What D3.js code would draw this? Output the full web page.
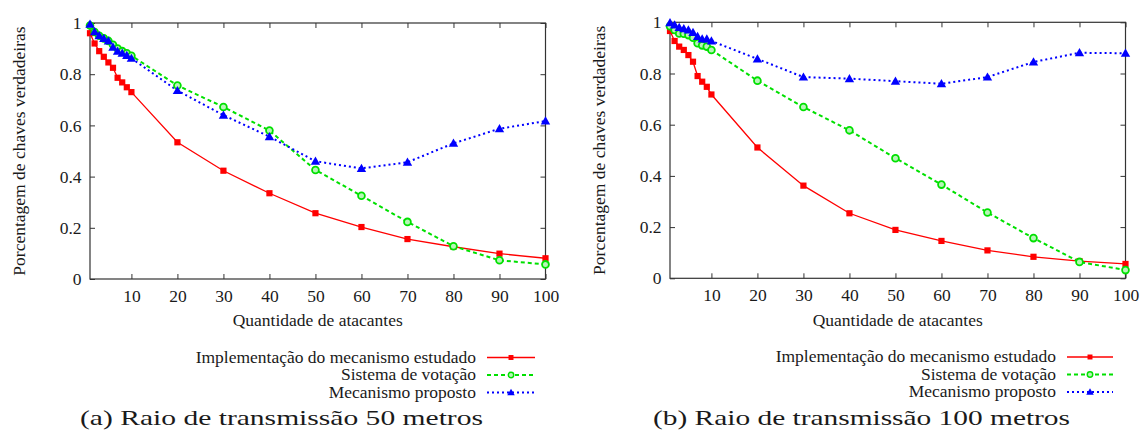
<!DOCTYPE html>
<html>
<head>
<meta charset="utf-8">
<script src="https://cdn.jsdelivr.net/npm/d3@7"></script>
<style>
  html, body { margin: 0; padding: 0; background: #fff; }
  svg { display: block; }
  text { font-family: "Liberation Serif", "Times New Roman", serif; fill: #1a1a1a; }
</style>
</head>
<body>
<svg id="chart" width="1141" height="436"></svg>
<script>
// Number of attackers on the x axis
const attackers = [1, 2, 3, 4, 5, 6, 7, 8, 9, 10, 20, 30, 40, 50, 60, 70, 80, 90, 100];
const xTickValues = [10, 20, 30, 40, 50, 60, 70, 80, 90, 100];
const yTickValues = [0, 0.2, 0.4, 0.6, 0.8, 1];

const seriesNames = [
  "Implementação do mecanismo estudado",
  "Sistema de votação",
  "Mecanismo proposto"
];

// (a) transmission radius 50 m
const studiedA  = [0.96, 0.92, 0.89, 0.868, 0.846, 0.825, 0.786, 0.768, 0.749, 0.73,
                   0.534, 0.423, 0.335, 0.257, 0.203, 0.156, 0.126, 0.099, 0.081];
const votingA   = [0.99, 0.965, 0.95, 0.94, 0.93, 0.915, 0.9, 0.89, 0.882, 0.872,
                   0.756, 0.672, 0.58, 0.426, 0.325, 0.223, 0.128, 0.073, 0.057];
const proposedA = [0.995, 0.966, 0.95, 0.94, 0.93, 0.905, 0.89, 0.882, 0.873, 0.862,
                   0.736, 0.64, 0.556, 0.46, 0.432, 0.456, 0.53, 0.587, 0.617];

// (b) transmission radius 100 m
const studiedB  = [0.966, 0.927, 0.905, 0.892, 0.872, 0.846, 0.79, 0.768, 0.748, 0.718,
                   0.511, 0.362, 0.254, 0.189, 0.146, 0.109, 0.084, 0.067, 0.056];
const votingB   = [0.985, 0.97, 0.956, 0.955, 0.95, 0.94, 0.918, 0.91, 0.905, 0.892,
                   0.772, 0.669, 0.578, 0.469, 0.366, 0.257, 0.157, 0.064, 0.032];
const proposedB = [0.998, 0.99, 0.98, 0.975, 0.97, 0.96, 0.945, 0.935, 0.935, 0.927,
                   0.857, 0.786, 0.78, 0.77, 0.76, 0.786, 0.845, 0.881, 0.879];

const captions = ["(a) Raio de transmissão 50 metros", "(b) Raio de transmissão 100 metros"];
const xTitle = "Quantidade de atacantes";
const yTitle = "Porcentagem de chaves verdadeiras";

const styles = [
  { color: "#ff0000", dash: null,  marker: "square" },
  { color: "#00e000", dash: "4,3", marker: "circle" },
  { color: "#0000ff", dash: "2,3", marker: "triangle" }
];

const FONT = 17.5;
const LEGEND_FONT = 15.8;

const svg = d3.select("#chart");
svg.append("rect").attr("width", 1141).attr("height", 436).attr("fill", "#fff");

const panels = [
  { left: 90,  right: 545.5,  top: 23,   bottom: 279,   titleX: 19,
    legendTextX: 476, legendLineX0: 487, legendLineX1: 535, legendY: [357.5, 375, 392.5],
    captionX: 80, captionW: 403, captionY: 425,
    data: [studiedA, votingA, proposedA], caption: captions[0] },
  { left: 670, right: 1125.5, top: 22.3, bottom: 278.3, titleX: 599,
    legendTextX: 1056, legendLineX0: 1067, legendLineX1: 1113, legendY: [357, 374.5, 392],
    captionX: 653, captionW: 417, captionY: 425,
    data: [studiedB, votingB, proposedB], caption: captions[1] }
];

function drawMarker(g, type, x, y, color) {
  if (type === "square") {
    g.append("rect").attr("x", x - 3.1).attr("y", y - 3.1).attr("width", 6.2).attr("height", 6.2)
      .attr("fill", color);
  } else if (type === "circle") {
    g.append("circle").attr("cx", x).attr("cy", y).attr("r", 3.4)
      .attr("fill", "#b8f5b8").attr("stroke", color).attr("stroke-width", 1.8);
  } else {
    const s = 4.7;
    g.append("path")
      .attr("d", `M${x},${y - s}L${x + s},${y + s * 0.75}L${x - s},${y + s * 0.75}Z`)
      .attr("fill", color);
  }
}

panels.forEach(p => {
  const x = d3.scaleLinear().domain([1, 100]).range([p.left, p.right]);
  const y = d3.scaleLinear().domain([0, 1]).range([p.bottom, p.top]);
  const g = svg.append("g");

  // Axes with inward ticks on all four sides
  g.append("g").attr("transform", `translate(0,${p.bottom})`)
    .call(d3.axisBottom(x).tickValues(xTickValues).tickSizeInner(-5).tickSizeOuter(0).tickPadding(10.5));
  g.append("g").attr("transform", `translate(${p.left},0)`)
    .call(d3.axisLeft(y).tickValues(yTickValues).tickFormat(d3.format("~g"))
      .tickSizeInner(-5).tickSizeOuter(0).tickPadding(8.5));
  g.append("g").attr("transform", `translate(0,${p.top})`)
    .call(d3.axisTop(x).tickValues(xTickValues).tickSizeInner(-5).tickSizeOuter(0).tickFormat(""));
  g.append("g").attr("transform", `translate(${p.right},0)`)
    .call(d3.axisRight(y).tickValues(yTickValues).tickSizeInner(-5).tickSizeOuter(0).tickFormat(""));

  g.selectAll(".domain").remove();
  g.selectAll(".tick line").attr("stroke", "#333").attr("stroke-width", 1);
  g.selectAll(".tick text").attr("font-family", "Liberation Serif, serif")
    .attr("font-size", FONT).attr("fill", "#1a1a1a");

  // Frame
  g.append("rect")
    .attr("x", p.left).attr("y", p.top)
    .attr("width", p.right - p.left).attr("height", p.bottom - p.top)
    .attr("fill", "none").attr("stroke", "#333").attr("stroke-width", 1.2);

  // Series
  const line = d3.line().x((d, i) => x(attackers[i])).y(d => y(d));
  p.data.forEach((vals, si) => {
    const st = styles[si];
    g.append("path").datum(vals)
      .attr("d", line)
      .attr("fill", "none")
      .attr("stroke", st.color)
      .attr("stroke-width", si === 0 ? 1.3 : 2)
      .attr("stroke-dasharray", st.dash);
  });
  p.data.forEach((vals, si) => {
    const st = styles[si];
    const mg = g.append("g");
    vals.forEach((v, i) => drawMarker(mg, st.marker, x(attackers[i]), y(v), st.color));
  });

  // Axis titles
  g.append("text")
    .attr("x", (p.left + p.right) / 2).attr("y", 326)
    .attr("text-anchor", "middle").attr("font-size", FONT)
    .text(xTitle);
  g.append("text")
    .attr("transform", `translate(${p.titleX},${(p.top + p.bottom) / 2}) rotate(-90)`)
    .attr("text-anchor", "middle").attr("dy", "0.35em").attr("font-size", FONT)
    .text(yTitle);

  // Legend: compact font, widened horizontally to the full entry width
  seriesNames.forEach((name, si) => {
    const st = styles[si];
    const ly = p.legendY[si];
    const t = g.append("text").attr("x", p.legendTextX).attr("y", ly).attr("dy", "0.33em")
      .attr("text-anchor", "end").attr("font-size", LEGEND_FONT).text(name);
    const w = t.node().getComputedTextLength();
    t.attr("textLength", w * FONT / LEGEND_FONT).attr("lengthAdjust", "spacingAndGlyphs");
    g.append("line")
      .attr("x1", p.legendLineX0).attr("x2", p.legendLineX1)
      .attr("y1", ly).attr("y2", ly)
      .attr("stroke", st.color).attr("stroke-width", si === 0 ? 1.3 : 2)
      .attr("stroke-dasharray", st.dash);
    const mx = (p.legendLineX0 + p.legendLineX1) / 2;
    const lg = g.append("g").attr("transform", `translate(${mx},${ly}) scale(0.8) translate(${-mx},${-ly})`);
    drawMarker(lg, st.marker, mx, ly, st.color);
  });

  // Caption
  g.append("text")
    .attr("x", p.captionX).attr("y", p.captionY)
    .attr("font-family", "DejaVu Serif, serif").attr("font-size", 21)
    .attr("textLength", p.captionW).attr("lengthAdjust", "spacingAndGlyphs")
    .text(p.caption);
});
</script>
</body>
</html>
